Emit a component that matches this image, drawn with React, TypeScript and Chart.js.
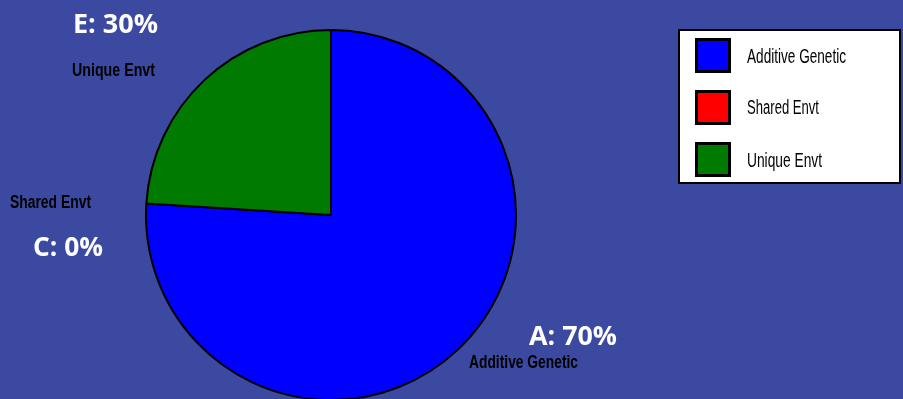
import React, { useEffect, useRef } from "react";
import { Chart, registerables } from "chart.js";

Chart.register(...registerables);

const categories = ["Additive Genetic", "Shared Envt", "Unique Envt"];
const values = [76, 0, 24];
const colors = ["#0000FF", "#FF0000", "#007A00"];
const valueLabels = ["A: 70%", "C: 0%", "E: 30%"];

const BG = "#3B4AA0";

function fitText(ctx: CanvasRenderingContext2D, text: string, font: string, color: string, left: number, right: number, baseline: number) {
  ctx.save();
  ctx.font = font;
  ctx.fillStyle = color;
  ctx.textBaseline = "alphabetic";
  ctx.textAlign = "left";
  const w = ctx.measureText(text).width;
  const target = right - left;
  const s = target / w;
  ctx.translate(left, baseline);
  ctx.scale(s, 1);
  ctx.fillText(text, 0, 0);
  ctx.restore();
}

const overlayPlugin = {
  id: "overlay",
  afterDraw(chart: any) {
    const ctx = chart.ctx as CanvasRenderingContext2D;
    const white = "bold 27px 'Open Sans'";
    const black = "bold 18px 'Liberation Sans Narrow', 'Liberation Sans'";
    // value labels
    fitText(ctx, valueLabels[2], white, "#FFFFFF", 73, 158, 33);
    fitText(ctx, categories[2], black, "#000000", 72, 155, 76);
    fitText(ctx, categories[1], black, "#000000", 10, 91, 208);
    fitText(ctx, valueLabels[1], white, "#FFFFFF", 33, 103, 256);
    fitText(ctx, valueLabels[0], white, "#FFFFFF", 529, 617, 345);
    fitText(ctx, categories[0], black, "#000000", 469, 578, 368);

    // legend
    ctx.save();
    ctx.fillStyle = "#FFFFFF";
    ctx.fillRect(679, 30, 221, 153);
    ctx.strokeStyle = "#000000";
    ctx.lineWidth = 2;
    ctx.strokeRect(679, 30, 221, 153);
    const boxTops = [38, 90, 142];
    const textRights = [846, 819, 822];
    const baselines = [63, 114, 167];
    const lf = "20px 'Liberation Sans Narrow', 'Liberation Sans'";
    for (let i = 0; i < categories.length; i++) {
      ctx.fillStyle = colors[i];
      ctx.fillRect(696, boxTops[i] + 1, 34, 33);
      ctx.lineWidth = 3;
      ctx.strokeStyle = "#000000";
      ctx.strokeRect(696.5, boxTops[i] + 1.5, 33, 32);
      fitText(ctx, categories[i], lf, "#000000", 747, textRights[i], baselines[i]);
    }
    ctx.restore();
  },
};

export default function App() {
  const ref = useRef<HTMLCanvasElement>(null);
  useEffect(() => {
    document.body.style.margin = "0";
    document.body.style.overflow = "hidden";
    document.body.style.background = BG;
    const chart = new Chart(ref.current!, {
      type: "pie",
      data: {
        labels: categories,
        datasets: [
          {
            data: values,
            backgroundColor: colors,
            borderColor: "#000000",
            borderWidth: 2,
          },
        ],
      },
      options: {
        responsive: false,
        animation: false,
        layout: { padding: { left: 145, right: 386, top: 29, bottom: 29 } },
        plugins: {
          legend: { display: false },
          tooltip: { enabled: false },
        },
      },
      plugins: [overlayPlugin],
    });
    return () => chart.destroy();
  }, []);
  return (
    <div style={{ width: 903, height: 399, overflow: "hidden", background: BG }}>
      <canvas ref={ref} width={903} height={430} style={{ display: "block" }} />
    </div>
  );
}
